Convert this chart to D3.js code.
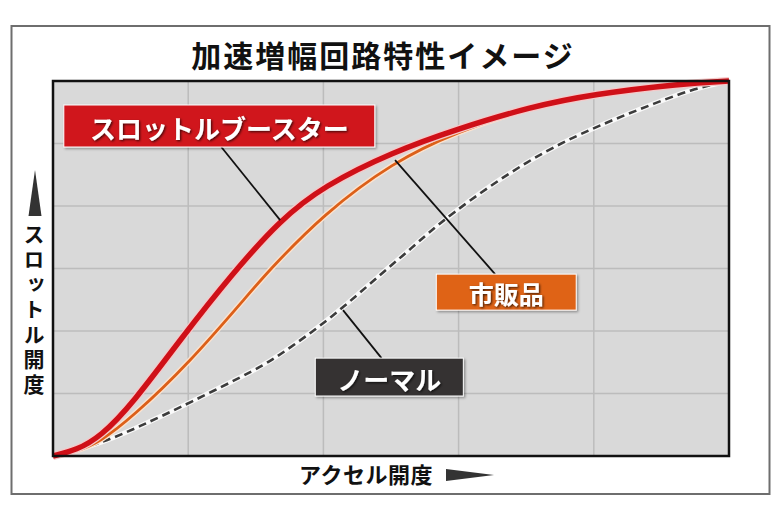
<!DOCTYPE html>
<html>
<head>
<meta charset="utf-8">
<script src="https://cdn.jsdelivr.net/npm/d3@7"></script>
<style>
  body { margin: 0; background: #fff; }
  text { font-family: "Noto Sans CJK JP", "Noto Sans", sans-serif; font-weight: bold; }
</style>
</head>
<body>
<div id="chart"></div>
<script>
// chart texts
var title = "加速増幅回路特性イメージ";
var xLabel = "アクセル開度";
var yLabel = "スロットル開度";

// series: [accel %, throttle %]
var seriesNames = ["ノーマル", "市販品", "スロットルブースター"];
var normalPts = [[0, 0], [6.5, 2.9], [13, 8], [20, 14], [30.6, 23.5], [34, 27.5], [41, 36.5], [48.8, 49],
  [52.8, 55], [58.3, 64], [70.6, 79.5], [79.9, 87.5], [86.8, 92.5], [94.7, 98], [100, 100]];
var marketPts = [[0, 0], [3.5, 1.2], [7, 3.8], [11.8, 10.5], [20, 24.5], [29.1, 43.5], [31.7, 49],
  [40, 64.5], [50.3, 78.4], [59.8, 86.5], [70.6, 93], [79.9, 96.3], [93, 99.3], [100, 100]];
var boosterPts = [[0, 0], [3.5, 1.6], [7, 5.1], [11.8, 14], [18.8, 31], [26.6, 48.8], [33.6, 62.9],
  [40, 72], [50.3, 81.1], [59.8, 87.2], [70.6, 93.1], [79.9, 96.5], [93, 99.3], [100, 100]];

// grid divisions (5 columns, 6 rows)
var xGrid = [20, 40, 60, 80];
var yGrid = [1, 2, 3, 4, 5].map(function (i) { return i * 100 / 6; });

var W = 783, H = 520;
var margin = { top: 81, right: 54, bottom: 64, left: 53 },
    width = W - margin.left - margin.right,
    height = H - margin.top - margin.bottom;

var svg = d3.select("#chart").append("svg")
    .attr("width", W)
    .attr("height", H);

var defs = svg.append("defs");
var f = defs.append("filter").attr("id", "tshadow")
    .attr("x", "-10%").attr("y", "-20%").attr("width", "130%").attr("height", "150%");
f.append("feDropShadow").attr("dx", 1.2).attr("dy", 1.2).attr("stdDeviation", 0.8)
    .attr("flood-color", "#000").attr("flood-opacity", 0.7);
var fb = defs.append("filter").attr("id", "bshadow")
    .attr("x", "-5%").attr("y", "-10%").attr("width", "115%").attr("height", "130%");
fb.append("feDropShadow").attr("dx", 1.5).attr("dy", 1.5).attr("stdDeviation", 1)
    .attr("flood-color", "#000").attr("flood-opacity", 0.35);

// outer frame
svg.append("rect")
    .attr("x", 11.5).attr("y", 26).attr("width", 758).attr("height", 468)
    .attr("fill", "#fff").attr("stroke", "#6e6e6e").attr("stroke-width", 2);

svg.append("text")
    .attr("x", 383).attr("y", 54)
    .attr("text-anchor", "middle").attr("dominant-baseline", "central")
    .attr("font-size", 30).attr("letter-spacing", 2)
    .attr("fill", "#111")
    .text(title);

var g = svg.append("g")
    .attr("transform", "translate(" + margin.left + "," + margin.top + ")");

var x = d3.scaleLinear().domain([0, 100]).range([0, width]);
var y = d3.scaleLinear().domain([0, 100]).range([height, 0]);

g.append("rect")
    .attr("width", width).attr("height", height)
    .attr("fill", "#d9d9d9");

g.selectAll(".vgrid").data(xGrid).enter().append("line")
    .attr("x1", d => x(d)).attr("x2", d => x(d))
    .attr("y1", 0).attr("y2", height)
    .attr("stroke", "#bcbcbc").attr("stroke-width", 1.5);

g.selectAll(".hgrid").data(yGrid).enter().append("line")
    .attr("y1", d => y(d)).attr("y2", d => y(d))
    .attr("x1", 0).attr("x2", width)
    .attr("stroke", "#bcbcbc").attr("stroke-width", 1.5);

var line = d3.line()
    .x(d => x(d[0]))
    .y(d => y(d[1]))
    .curve(d3.curveBasis);

// normal (dashed)
g.append("path").attr("d", line(normalPts))
    .attr("fill", "none").attr("stroke", "#fff").attr("stroke-opacity", 0.85).attr("stroke-width", 5);
g.append("path").attr("d", line(normalPts))
    .attr("fill", "none").attr("stroke", "#3c3c3c").attr("stroke-width", 2.6)
    .attr("stroke-dasharray", "8,5");

// market (orange)
g.append("path").attr("d", line(marketPts))
    .attr("fill", "none").attr("stroke", "#fbe3d0").attr("stroke-width", 5.5);
g.append("path").attr("d", line(marketPts))
    .attr("fill", "none").attr("stroke", "#dc6019").attr("stroke-width", 2.8);

// booster (red)
g.append("path").attr("d", line(boosterPts))
    .attr("fill", "none").attr("stroke", "#f4c9c9").attr("stroke-width", 8);
g.append("path").attr("d", line(boosterPts))
    .attr("fill", "none").attr("stroke", "#cf1018").attr("stroke-width", 5.5);

// plot frame
g.append("rect")
    .attr("width", width).attr("height", height)
    .attr("fill", "none").attr("stroke", "#111").attr("stroke-width", 2.5);

// annotation boxes: [x0, x1, yTop, yBottom] in data units, leader from box to curve point
var labels = [
  { text: seriesNames[2], box: [1.6, 47.6, 93.6, 82.4], fill: "#d0121b", size: 26, from: [24.9, 82.4], to: [33.6, 62.9] },
  { text: seriesNames[1], box: [56.7, 77.4, 48.5, 38.9], fill: "#df6419", size: 25, from: [65.4, 48.5], to: [50.6, 78.9] },
  { text: seriesNames[0], box: [38.8, 60.7, 26.1, 16.0], fill: "#343232", size: 26, from: [48.6, 26.1], to: [42.9, 38.9] }
];

g.selectAll(".leader").data(labels).enter().append("line")
    .attr("x1", d => x(d.from[0])).attr("y1", d => y(d.from[1]))
    .attr("x2", d => x(d.to[0])).attr("y2", d => y(d.to[1]))
    .attr("stroke", "#111").attr("stroke-width", 1.8);

var lab = g.selectAll(".lab").data(labels).enter().append("g");
lab.append("rect")
    .attr("x", d => x(d.box[0])).attr("y", d => y(d.box[2]))
    .attr("width", d => x(d.box[1]) - x(d.box[0]))
    .attr("height", d => y(d.box[3]) - y(d.box[2]))
    .attr("fill", d => d.fill)
    .attr("stroke", "#fff").attr("stroke-width", 1)
    .attr("filter", "url(#bshadow)");
lab.append("text")
    .attr("x", d => (x(d.box[0]) + x(d.box[1])) / 2)
    .attr("y", d => (y(d.box[2]) + y(d.box[3])) / 2 + 1)
    .attr("text-anchor", "middle").attr("dominant-baseline", "central")
    .attr("font-size", d => d.size)
    .attr("fill", "#fff")
    .attr("filter", "url(#tshadow)")
    .text(d => d.text);

// y axis label: arrow + vertical text
svg.append("path")
    .attr("d", d3.line()([[35, 170], [41.5, 216], [28.5, 216]]) + "Z")
    .attr("fill", "#333");
svg.append("text")
    .attr("x", 34).attr("y", 224)
    .style("writing-mode", "vertical-rl")
    .style("text-orientation", "upright")
    .attr("font-size", 21).attr("letter-spacing", 4)
    .attr("fill", "#111")
    .text(yLabel);

// x axis label + arrow
svg.append("text")
    .attr("x", 366).attr("y", 473)
    .attr("text-anchor", "middle").attr("dominant-baseline", "central")
    .attr("font-size", 22).attr("letter-spacing", 0.5)
    .attr("fill", "#111")
    .text(xLabel);
svg.append("path")
    .attr("d", d3.line()([[446, 469], [494, 475], [446, 481]]) + "Z")
    .attr("fill", "#333");
</script>
</body>
</html>
